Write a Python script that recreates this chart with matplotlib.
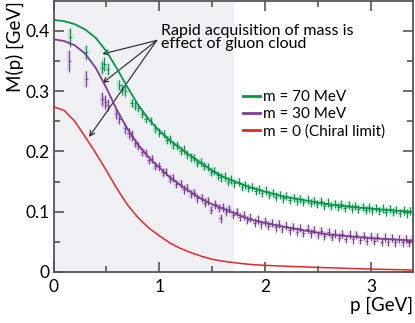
import matplotlib
matplotlib.use("Agg")
import matplotlib.pyplot as plt
from matplotlib.lines import Line2D

plt.rcParams['font.family'] = ['Lato', 'DejaVu Sans']

# ---------------- data ----------------
curve_p = [0.0, 0.1, 0.2, 0.3, 0.4, 0.5, 0.6, 0.7, 0.8, 0.9, 1.0, 1.1, 1.2, 1.3, 1.4,
           1.5, 1.6, 1.7, 1.8, 1.9, 2.0, 2.2, 2.4, 2.6, 2.8, 3.0, 3.2, 3.4]
curve_m70 = [0.418, 0.416, 0.411, 0.402, 0.388, 0.366, 0.337, 0.306, 0.277, 0.253, 0.234,
             0.218, 0.205, 0.192, 0.180, 0.168, 0.158, 0.151, 0.144, 0.138, 0.133, 0.124,
             0.118, 0.112, 0.108, 0.105, 0.102, 0.0995]
curve_m30 = [0.386, 0.383, 0.376, 0.362, 0.338, 0.305, 0.268, 0.237, 0.211, 0.190, 0.173,
             0.157, 0.144, 0.132, 0.121, 0.112, 0.105, 0.098, 0.091, 0.085, 0.081, 0.074,
             0.068, 0.062, 0.059, 0.056, 0.054, 0.052]
curve_m0 = [0.274, 0.268, 0.250, 0.224, 0.197, 0.168, 0.138, 0.111, 0.090, 0.073, 0.060,
            0.048, 0.039, 0.032, 0.026, 0.021, 0.018, 0.0155, 0.0135, 0.012, 0.011, 0.0095,
            0.0082, 0.0070, 0.0058, 0.0048, 0.0040, 0.0033]

lat70_p = [0.16, 0.31, 0.46, 0.48, 0.51, 0.62, 0.65, 0.68, 0.74, 0.77, 0.80, 0.84, 0.87,
           0.92, 0.96, 1.00, 1.04, 1.07, 1.10, 1.13, 1.17, 1.20, 1.23, 1.26, 1.30, 1.33,
           1.36, 1.39, 1.42, 1.46, 1.49, 1.52, 1.55, 1.58, 1.62, 1.65, 1.68, 1.71, 1.75,
           1.78, 1.81, 1.84, 1.88, 1.91, 1.94, 1.97, 2.01, 2.04, 2.07, 2.10, 2.14, 2.17,
           2.20, 2.23, 2.27, 2.30, 2.33, 2.36, 2.40, 2.43, 2.46, 2.49, 2.53, 2.56, 2.59,
           2.62, 2.66, 2.69, 2.72, 2.75, 2.79, 2.82, 2.85, 2.88, 2.92, 2.95, 2.98, 3.01,
           3.05, 3.08, 3.11, 3.14, 3.18, 3.21, 3.24, 3.27, 3.31, 3.34, 3.37]
lat70_m = [0.389, 0.364, 0.339, 0.345, 0.336, 0.310, 0.303, 0.300, 0.280, 0.276, 0.272,
           0.262, 0.254, 0.250, 0.238, 0.231, 0.229, 0.219, 0.220, 0.211, 0.210, 0.201,
           0.203, 0.195, 0.190, 0.189, 0.181, 0.182, 0.176, 0.174, 0.166, 0.167, 0.160,
           0.157, 0.158, 0.150, 0.153, 0.147, 0.149, 0.141, 0.144, 0.139, 0.141, 0.134,
           0.137, 0.131, 0.135, 0.128, 0.131, 0.125, 0.128, 0.122, 0.126, 0.119, 0.123,
           0.118, 0.121, 0.116, 0.120, 0.114, 0.118, 0.113, 0.117, 0.110, 0.115, 0.109,
           0.113, 0.108, 0.112, 0.106, 0.111, 0.105, 0.109, 0.104, 0.108, 0.103, 0.107,
           0.102, 0.106, 0.101, 0.105, 0.100, 0.104, 0.099, 0.103, 0.098, 0.102, 0.097,
           0.101]
lat70_err = [0.016, 0.012, 0.011, 0.011, 0.010, 0.009, 0.009, 0.009] + [0.007] * 81

lat30_p = [0.15, 0.31, 0.46, 0.49, 0.51, 0.59, 0.62, 0.68, 0.71, 0.74, 0.77, 0.80, 0.84,
           0.87, 0.90, 0.93, 0.96, 1.00, 1.03, 1.06, 1.10, 1.13, 1.16, 1.20, 1.23, 1.26,
           1.30, 1.33, 1.36, 1.40, 1.43, 1.46, 1.49, 1.53, 1.56, 1.58, 1.60, 1.63, 1.66,
           1.70, 1.73, 1.76, 1.80, 1.83, 1.86, 1.90, 1.93, 1.96, 2.00, 2.03, 2.06, 2.10,
           2.13, 2.16, 2.20, 2.23, 2.26, 2.30, 2.33, 2.36, 2.40, 2.43, 2.46, 2.50, 2.53,
           2.56, 2.60, 2.63, 2.66, 2.70, 2.73, 2.76, 2.80, 2.83, 2.86, 2.90, 2.93, 2.96,
           3.00, 3.03, 3.06, 3.10, 3.13, 3.16, 3.20, 3.23, 3.26, 3.30, 3.33, 3.36, 3.39]
lat30_m = [0.350, 0.320, 0.287, 0.282, 0.277, 0.262, 0.254, 0.238, 0.230, 0.226, 0.214,
           0.209, 0.199, 0.197, 0.186, 0.187, 0.176, 0.175, 0.165, 0.166, 0.154, 0.156,
           0.146, 0.146, 0.137, 0.139, 0.129, 0.131, 0.122, 0.123, 0.115, 0.118, 0.103,
           0.112, 0.106, 0.089, 0.107, 0.100, 0.104, 0.095, 0.099, 0.091, 0.094, 0.086,
           0.090, 0.082, 0.087, 0.079, 0.084, 0.077, 0.081, 0.074, 0.080, 0.071, 0.077,
           0.069, 0.075, 0.067, 0.073, 0.065, 0.072, 0.064, 0.070, 0.061, 0.068, 0.060,
           0.066, 0.058, 0.064, 0.057, 0.063, 0.055, 0.062, 0.054, 0.061, 0.053, 0.060,
           0.052, 0.059, 0.051, 0.058, 0.050, 0.057, 0.050, 0.056, 0.049, 0.055, 0.049,
           0.055, 0.048, 0.054]
lat30_err = [0.018, 0.014, 0.011, 0.011, 0.010, 0.009, 0.009, 0.009, 0.009, 0.009] + [0.007] * 81

labels = ['m = 70 MeV', 'm = 30 MeV', 'm = 0 (Chiral limit)']
annotation = 'Rapid acquisition of mass is\neffect of gluon cloud'

# ---------------- style ----------------
GREEN = '#009846'
PURPLE = '#7d3c98'
RED = '#e8252b'
SPINE = '#555555'

fig = plt.figure(figsize=(4.15, 3.23), dpi=100)
ax = fig.add_axes([0.129, 0.158, 0.867, 0.840])

ax.axvspan(0, 1.71, color='#eff0f3', zorder=0, lw=0)

for p, m, e, col in [(lat70_p, lat70_m, lat70_err, GREEN), (lat30_p, lat30_m, lat30_err, PURPLE)]:
    ax.errorbar(p, m, yerr=[x * 0.9 for x in e], fmt='none', ecolor=col, elinewidth=3.0,
                alpha=0.2, zorder=2)
    ax.errorbar(p, m, yerr=e, xerr=0.013, fmt='none', ecolor=col, elinewidth=0.7, zorder=3)

ax.plot(curve_p, curve_m70, color=GREEN, lw=1.3, zorder=4)
ax.plot(curve_p, curve_m30, color=PURPLE, lw=1.3, zorder=4)
ax.plot(curve_p, curve_m0, color=RED, lw=1.1, zorder=4)

ax.set_xlim(0, 3.4)
ax.set_ylim(0, 0.45)
ax.set_xticks([0, 1, 2, 3])
ax.set_xticks([0.5, 1.5, 2.5], minor=True)
ax.set_yticks([0, 0.1, 0.2, 0.3, 0.4])
ax.set_yticklabels(['0', '0.1', '0.2', '0.3', '0.4'])
ax.set_yticks([0.05, 0.15, 0.25, 0.35], minor=True)
ax.tick_params(which='both', direction='in', top=True, right=True, color=SPINE,
               labelsize=12.5, width=1.2)
ax.tick_params(which='major', length=7, pad=3)
ax.tick_params(axis='x', which='major', pad=5)
ax.tick_params(which='minor', length=4)
for s in ax.spines.values():
    s.set_color(SPINE)
    s.set_linewidth(1.3)

ax.set_xlabel('p [GeV]', loc='right', fontsize=13.5, labelpad=1)
ax.set_ylabel('M(p) [GeV]', loc='top', fontsize=13.5, labelpad=1)

handles = [Line2D([], [], color=c, lw=2) for c in (GREEN, PURPLE, RED)]
ax.legend(handles, labels, loc='upper left', bbox_to_anchor=(0.526, 0.67), frameon=False,
          fontsize=11, handlelength=1.1, handletextpad=0.25, labelspacing=0.2,
          borderpad=0, borderaxespad=0)

ax.text(1.02, 0.389, annotation, fontsize=11.5, va='center', ha='left', linespacing=0.95)
for tip in [(0.462, 0.3615), (0.462, 0.313), (0.336, 0.224)]:
    ax.annotate('', xy=tip, xytext=(0.975, 0.384),
                arrowprops=dict(arrowstyle='->', color='#222222', lw=0.8,
                                shrinkA=0, shrinkB=0, mutation_scale=9))

fig.savefig('out.png', dpi=100)
